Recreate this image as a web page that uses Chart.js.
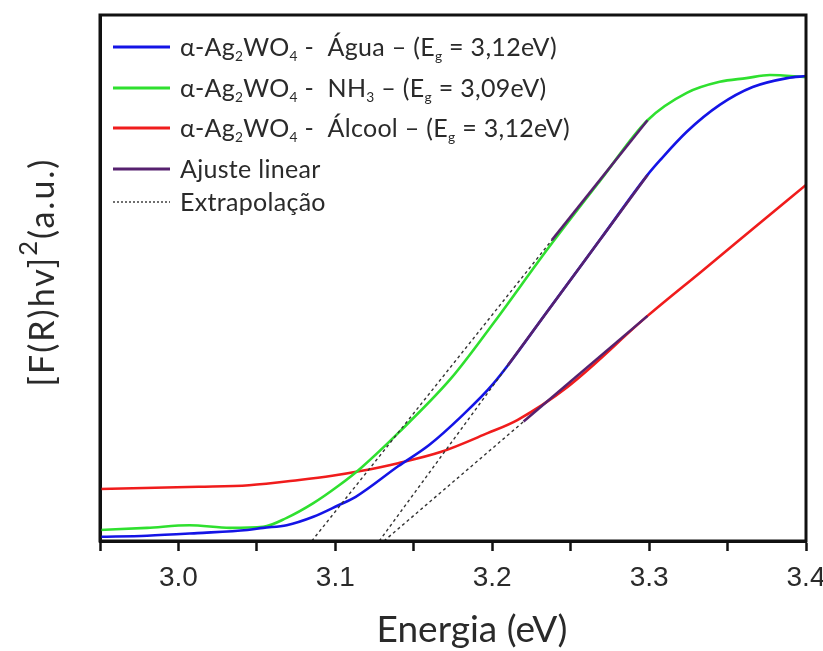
<!DOCTYPE html>
<html lang="pt">
<head>
<meta charset="UTF-8">
<title>Gráfico de Tauc - α-Ag2WO4</title>
<script src="https://cdn.jsdelivr.net/npm/chart.js@4"></script>
<style>
  html, body { margin: 0; padding: 0; background: #fff; }
</style>
</head>
<body>
<canvas id="taucChart" width="823" height="651"></canvas>
<script>
// Energia (eV) x [F(R)hv]^2 (u.a.)
const aguaX = [2.950, 2.980, 3.012, 3.044, 3.054, 3.069, 3.086, 3.102, 3.113, 3.140, 3.160, 3.180, 3.201, 3.236, 3.269, 3.299, 3.307, 3.324, 3.345, 3.366, 3.388, 3.400];
const aguaY = [0.008, 0.010, 0.015, 0.021, 0.025, 0.030, 0.046, 0.068, 0.084, 0.142, 0.183, 0.236, 0.300, 0.440, 0.574, 0.696, 0.724, 0.778, 0.829, 0.863, 0.880, 0.884];

const nh3X = [2.950, 2.980, 3.007, 3.033, 3.054, 3.069, 3.086, 3.102, 3.116, 3.140, 3.174, 3.201, 3.236, 3.269, 3.299, 3.324, 3.345, 3.362, 3.377, 3.400];
const nh3Y = [0.021, 0.025, 0.030, 0.025, 0.027, 0.044, 0.072, 0.105, 0.138, 0.205, 0.310, 0.415, 0.558, 0.686, 0.800, 0.852, 0.873, 0.880, 0.886, 0.882];

const alcoolX = [2.950, 3.013, 3.045, 3.077, 3.098, 3.116, 3.140, 3.167, 3.197, 3.216, 3.248, 3.299, 3.334, 3.366, 3.400];
const alcoolY = [0.099, 0.103, 0.106, 0.116, 0.124, 0.133, 0.148, 0.169, 0.205, 0.230, 0.293, 0.428, 0.514, 0.593, 0.677];

// ajuste linear (região reta) e extrapolação até o eixo
const fitAguaX = [3.210, 3.299];
const fitAguaY = [0.334, 0.696];
const extAguaX = [3.128, 3.210];
const extAguaY = [0, 0.334];

const fitNh3X = [3.238, 3.299];
const fitNh3Y = [0.572, 0.800];
const extNh3X = [3.085, 3.238];
const extNh3Y = [0, 0.572];

const fitAlcoolX = [3.220, 3.299];
const fitAlcoolY = [0.227, 0.428];
const extAlcoolX = [3.131, 3.220];
const extAlcoolY = [0, 0.227];

const xTicks = [3.0, 3.1, 3.2, 3.3, 3.4];

// "_x" = subscrito, "^x" = sobrescrito
const legendLabels = [
    'α-Ag_2WO_4 -  Água – (E_g = 3,12eV)',
    'α-Ag_2WO_4 -  NH_3 – (E_g = 3,09eV)',
    'α-Ag_2WO_4 -  Álcool – (E_g = 3,12eV)',
    'Ajuste linear',
    'Extrapolação'
];
const yTitle = '[F(R)hv]^2(a.u.)';
const xTitle = 'Energia (eV)';

const BLUE = '#1414e6';
const GREEN = '#2fe02f';
const RED = '#f01c1c';
const PURPLE = '#56216f';
const TEXT = '#2a2a2a';
const FONT = "Lato, 'Open Sans', sans-serif";

const toPts = (xs, ys) => xs.map((x, i) => ({ x: x, y: ys[i] }));

function curve(xs, ys, color) {
    return {
        data: toPts(xs, ys), borderColor: color, borderWidth: 2.6,
        pointRadius: 0, cubicInterpolationMode: 'monotone', order: 2
    };
}
function fitLine(xs, ys) {
    return { data: toPts(xs, ys), borderColor: PURPLE, borderWidth: 2.6, pointRadius: 0, tension: 0, order: 0 };
}
function extLine(xs, ys) {
    return {
        data: toPts(xs, ys), borderColor: '#333', borderWidth: 1.4, borderDash: [3, 3],
        pointRadius: 0, tension: 0, order: 1
    };
}

function runs(text) {
    const out = [];
    let buf = '';
    for (let i = 0; i < text.length; i++) {
        const c = text[i];
        if ((c === '_' || c === '^') && i + 1 < text.length) {
            if (buf) out.push({ t: buf, k: '' });
            buf = '';
            out.push({ t: text[++i], k: c });
        } else {
            buf += c;
        }
    }
    if (buf) out.push({ t: buf, k: '' });
    return out;
}

function richWidth(ctx, text, size, opt) {
    let w = 0;
    runs(text).forEach(r => {
        const s = r.k === '_' ? size * opt.subScale : r.k === '^' ? size * opt.supScale : size;
        ctx.font = s + 'px ' + FONT;
        w += ctx.measureText(r.t).width;
    });
    return w;
}

function drawRich(ctx, text, x, y, size, opt) {
    let cx = x;
    runs(text).forEach(r => {
        let s = size, dy = 0;
        if (r.k === '_') { s = size * opt.subScale; dy = size * opt.subDy; }
        if (r.k === '^') { s = size * opt.supScale; dy = -size * opt.supDy; }
        ctx.font = s + 'px ' + FONT;
        ctx.fillText(r.t, cx, y + dy);
        cx += ctx.measureText(r.t).width;
    });
}

const framePlugin = {
    id: 'frame',
    afterDraw(chart) {
        const { ctx, chartArea: a } = chart;
        ctx.save();
        ctx.strokeStyle = '#111';
        ctx.lineWidth = 3;
        ctx.strokeRect(a.left, a.top, a.right - a.left, a.bottom - a.top);

        // legenda
        const colors = [BLUE, GREEN, RED, PURPLE, '#333'];
        const rowY = [47, 88, 128, 169, 202];
        const opt = { subScale: 0.55, subDy: 0.2, supScale: 0.75, supDy: 0.5 };
        ctx.fillStyle = TEXT;
        ctx.textBaseline = 'alphabetic';
        ctx.letterSpacing = '0.3px';
        legendLabels.forEach((label, i) => {
            ctx.beginPath();
            ctx.strokeStyle = colors[i];
            if (i === 4) {
                ctx.lineWidth = 1.4;
                ctx.setLineDash([2, 2]);
            } else {
                ctx.lineWidth = 3;
                ctx.setLineDash([]);
            }
            ctx.moveTo(113, rowY[i]);
            ctx.lineTo(170, rowY[i]);
            ctx.stroke();
            drawRich(ctx, label, 180, rowY[i] + 9, 25, opt);
        });
        ctx.setLineDash([]);

        // título do eixo x (um pouco à direita do centro, como no original)
        ctx.letterSpacing = '0px';
        ctx.font = '37px ' + FONT;
        ctx.textAlign = 'center';
        ctx.fillText(xTitle, 472, 642);
        ctx.textAlign = 'left';

        // título do eixo y
        const size = 34;
        ctx.letterSpacing = '2px';
        const w = richWidth(ctx, yTitle, size, opt);
        ctx.translate(54, 272);
        ctx.rotate(-Math.PI / 2);
        drawRich(ctx, yTitle, -w / 2, 0, size, opt);
        ctx.restore();
    }
};

new Chart(document.getElementById('taucChart'), {
    type: 'line',
    data: {
        datasets: [
            curve(aguaX, aguaY, BLUE),
            curve(nh3X, nh3Y, GREEN),
            curve(alcoolX, alcoolY, RED),
            fitLine(fitAguaX, fitAguaY),
            fitLine(fitNh3X, fitNh3Y),
            fitLine(fitAlcoolX, fitAlcoolY),
            extLine(extAguaX, extAguaY),
            extLine(extNh3X, extNh3Y),
            extLine(extAlcoolX, extAlcoolY)
        ]
    },
    options: {
        responsive: false,
        animation: false,
        layout: { padding: { top: 15, right: 17, left: 0, bottom: 0 } },
        plugins: { legend: { display: false }, tooltip: { enabled: false } },
        scales: {
            x: {
                type: 'linear',
                min: 2.95,
                max: 3.4,
                afterFit: s => { s.height = 110; s.paddingLeft = 0; s.paddingRight = 0; },
                ticks: {
                    stepSize: 0.05,
                    autoSkip: false,
                    maxRotation: 0,
                    padding: 10,
                    color: TEXT,
                    font: { family: "'Liberation Sans', Arial", size: 28 },
                    callback: v => {
                        const t = xTicks.find(k => Math.abs(k - v) < 1e-6);
                        return t === undefined ? '' : t.toFixed(1);
                    }
                },
                grid: { drawOnChartArea: false, drawTicks: true, tickLength: 10, tickWidth: 2.5, tickColor: '#111' },
                border: { display: true, width: 3, color: '#111' }
            },
            y: {
                min: 0,
                max: 1,
                afterFit: s => { s.width = 100; },
                ticks: { display: false },
                grid: { display: false },
                border: { display: true, width: 3, color: '#111' }
            }
        }
    },
    plugins: [framePlugin]
});
</script>
</body>
</html>
